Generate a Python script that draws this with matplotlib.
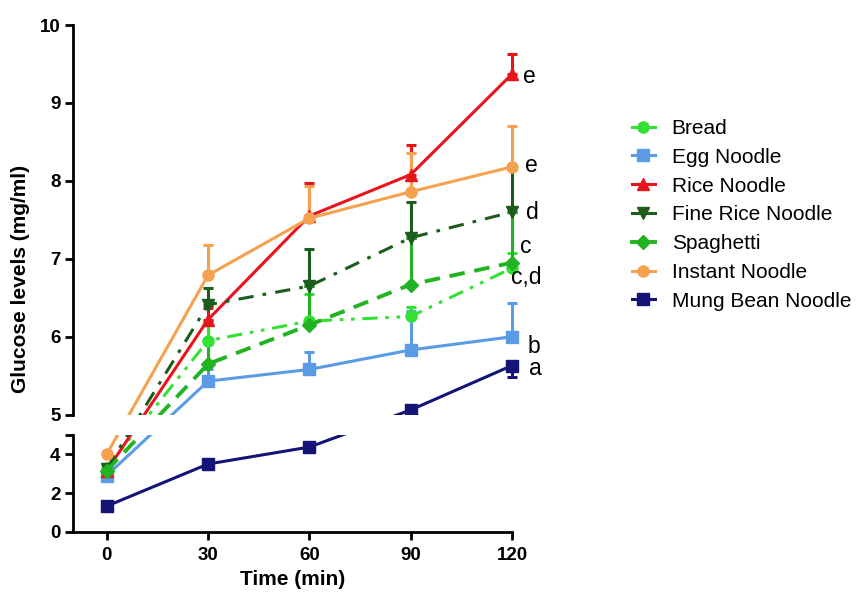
import numpy as np
import matplotlib
matplotlib.use("Agg")
import matplotlib.pyplot as plt
from matplotlib.lines import Line2D
from matplotlib.patches import Rectangle

# ---------------- data ----------------
time = [0, 30, 60, 90, 120]
series_names = ["Bread", "Egg Noodle", "Rice Noodle", "Fine Rice Noodle",
                "Spaghetti", "Instant Noodle", "Mung Bean Noodle"]

bread = [3.30, 5.95, 6.20, 6.26, 6.88]
egg = [2.90, 5.43, 5.58, 5.83, 6.00]
rice = [3.15, 6.22, 7.55, 8.08, 9.37]
fine_rice = [3.25, 6.41, 6.65, 7.27, 7.60]
spaghetti = [3.15, 5.65, 6.15, 6.67, 6.95]
instant = [4.00, 6.79, 7.52, 7.86, 8.18]
mung = [1.33, 3.49, 4.36, 5.06, 5.63]

bread_err_up = [0.15, 0.25, 0.35, 0.12, 0.20]
egg_err_up = [0.10, 0.15, 0.22, 0.50, 0.43]
rice_err_up = [0.15, 0.15, 0.42, 0.38, 0.26]
fine_rice_err_up = [0.15, 0.22, 0.48, 0.46, 0.55]
spaghetti_err_up = [0.15, 0.30, 0.50, 0.60, 0.65]
instant_err_up = [0.15, 0.39, 0.42, 0.50, 0.53]
mung_err_up = [0.0, 0.0, 0.0, 0.0, 0.0]
mung_err_down = [0.0, 0.0, 0.0, 0.0, 0.15]

letters = ["c,d", "b", "e", "d", "c", "e", "a"]

y_ticks = [0, 2, 4, 5, 5.000001, 6, 7, 8, 9, 10]
y_tick_labels = ["0", "2", "4", "", "5", "6", "7", "8", "9", "10"]
x_ticks = [0, 30, 60, 90, 120]

# ---------------- styles ----------------
colors = ["#33e033", "#5b9be6", "#e8141c", "#1c5c1c", "#22b322", "#f5a150", "#141478"]
markers = ["o", "s", "^", "v", "D", "o", "s"]
msizes = [8, 8, 9, 9, 7, 8, 9]
lstyles = [(0, (5, 2.5, 1.2, 2.5, 1.2, 2.5)), "-", "-", (0, (5, 3, 1.2, 3)),
           (0, (4, 2.5)), "-", "-"]
lwidths = [2.2, 2.2, 2.2, 2.2, 2.8, 2.2, 2.2]
letter_offsets = [(-1, -7), (11, -7), (8, -2), (10, 0), (6, 12), (9, 1), (12, -2)]

all_y = [bread, egg, rice, fine_rice, spaghetti, instant, mung]
all_up = [bread_err_up, egg_err_up, rice_err_up, fine_rice_err_up,
          spaghetti_err_up, instant_err_up, mung_err_up]
all_down = [[0] * 5] * 6 + [mung_err_down]

# broken y scale: 0-5 compressed, gap, 5-10 expanded
LOW = 0.25
GAP = 0.256
TOPSTART = 5 * LOW + GAP


def fwd(y):
    y = np.asarray(y, dtype=float)
    return np.where(y <= 5, y * LOW, TOPSTART + (y - 5))


def inv(t):
    t = np.asarray(t, dtype=float)
    return np.where(t <= 5 * LOW, t / LOW,
                    np.where(t >= TOPSTART, 5 + (t - TOPSTART), 5.0))


plt.rcParams["font.family"] = ["Liberation Sans", "DejaVu Sans"]

fig = plt.figure(figsize=(8.56, 5.92), dpi=100)
ax = fig.add_axes([73 / 856, 60 / 592, (512 - 73) / 856, (532 - 25) / 592])
ax.set_yscale("function", functions=(fwd, inv))
ax.set_ylim(0, 10)
ax.set_xlim(-10, 120)

for i in range(len(series_names)):
    ax.errorbar(time, all_y[i], yerr=[all_down[i], all_up[i]],
                color=colors[i], marker=markers[i], markersize=msizes[i],
                linestyle=lstyles[i], linewidth=lwidths[i],
                elinewidth=2.2, capsize=3.5, capthick=2.2,
                clip_on=False, zorder=2 + i * 0.01)

# gap mask
total = float(fwd(10))
f_low = 5 * LOW / total
f_high = TOPSTART / total
ax.add_patch(Rectangle((0.003, f_low), 1.05, f_high - f_low, transform=ax.transAxes,
                       facecolor="white", edgecolor="none", zorder=5, clip_on=False))

# spines
for s in ["top", "right", "left"]:
    ax.spines[s].set_visible(False)
ax.spines["bottom"].set_linewidth(2.0)
ax.plot([0, 0], [0, f_low], transform=ax.transAxes, color="black", lw=2.0,
        clip_on=False, zorder=6, solid_capstyle="projecting")
ax.plot([0, 0], [f_high, 1], transform=ax.transAxes, color="black", lw=2.0,
        clip_on=False, zorder=6, solid_capstyle="projecting")

ax.set_yticks(y_ticks)
ax.set_yticklabels(y_tick_labels)
ax.set_xticks(x_ticks)
ax.tick_params(axis="both", which="major", width=2.0, length=6, labelsize=13.5,
               direction="out")
ax.tick_params(axis="x", pad=5)
ax.tick_params(axis="y", pad=3)
for lab in ax.get_xticklabels() + ax.get_yticklabels():
    lab.set_fontweight("bold")
ax.yaxis.set_minor_locator(matplotlib.ticker.NullLocator())

ax.set_xlabel("Time (min)", fontsize=15, fontweight="bold", labelpad=4)
ax.set_ylabel("Glucose levels (mg/ml)", fontsize=15, fontweight="bold", labelpad=7)

# significance letters
for i in range(len(series_names)):
    ax.annotate(letters[i], xy=(time[-1], all_y[i][-1]), xytext=letter_offsets[i],
                textcoords="offset points", fontsize=16.5, ha="left", va="center",
                zorder=7, annotation_clip=False)

# legend
handles = [Line2D([0], [0], color=colors[i], marker=markers[i], markersize=msizes[i],
                  linewidth=lwidths[i], linestyle="-") for i in range(len(series_names))]
fig.legend(handles, series_names, loc="upper left",
           bbox_to_anchor=(632 / 856, (592 - 119) / 592), frameon=False,
           fontsize=15, handlelength=1.1, handletextpad=0.8, labelspacing=0.47,
           borderpad=0, borderaxespad=0)

fig.savefig("out.png", dpi=100)
